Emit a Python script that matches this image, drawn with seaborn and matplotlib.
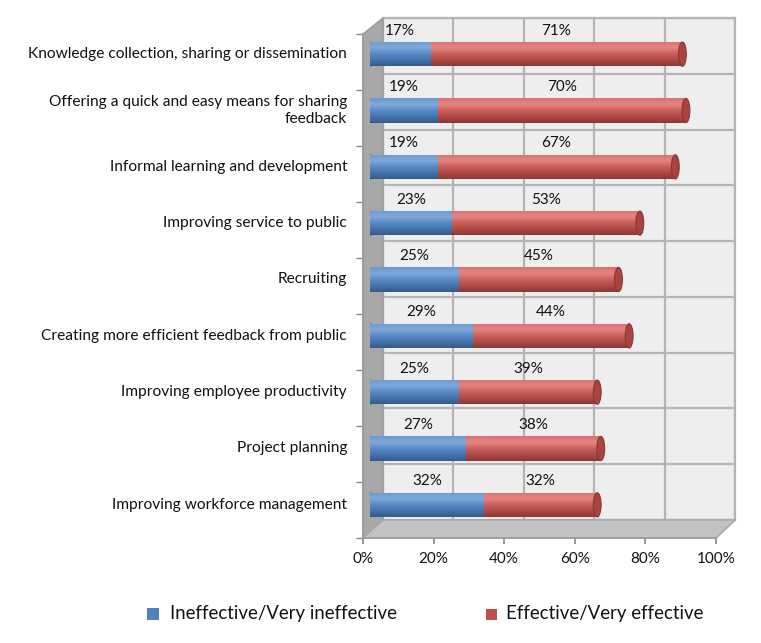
import numpy as np
import pandas as pd
import seaborn as sns
import matplotlib.pyplot as plt
from matplotlib.patches import Polygon, Rectangle, Ellipse
from matplotlib.lines import Line2D
from matplotlib.colors import LinearSegmentedColormap

# --------- Data ---------
categories = [
    "Knowledge collection, sharing or dissemination",
    "Offering a quick and easy means for sharing\nfeedback",
    "Informal learning and development",
    "Improving service to public",
    "Recruiting",
    "Creating more efficient feedback from public",
    "Improving employee productivity",
    "Project planning",
    "Improving workforce management",
]
ineffective = [17, 19, 19, 23, 25, 29, 25, 27, 32]
effective = [71, 70, 67, 53, 45, 44, 39, 38, 32]
x_ticks = [0, 20, 40, 60, 80, 100]
x_tick_labels = ["0%", "20%", "40%", "60%", "80%", "100%"]
series_names = ["Ineffective/Very ineffective", "Effective/Very effective"]

BLUE = "#4f81bd"
RED = "#c0504d"
W, H = 761, 643

df = pd.DataFrame({"category": categories, "ineffective": ineffective, "effective": effective})
df["total"] = df["ineffective"] + df["effective"]

sns.set_theme(style="white")
plt.rcParams["font.family"] = ["Lato", "DejaVu Sans"]

fig = plt.figure(figsize=(W / 100, H / 100), dpi=100)


def box(x0, y0, x1, y1):
    # pixel box -> figure rect
    return [x0 / W, 1 - y1 / H, (x1 - x0) / W, (y1 - y0) / H]


def px(x, y):
    return (x / W, 1 - y / H)


# --------- back wall ---------
ax_back = fig.add_axes(box(383, 18, 735, 520))
ax_back.set_zorder(-2)
ax_back.set_facecolor("#eeeeee")
ax_back.set_xlim(0, 100)
ax_back.set_ylim(len(categories), 0)
ax_back.set_xticks(x_ticks)
ax_back.set_yticks(range(len(categories) + 1))
ax_back.grid(True, color="#b4b4b4", linewidth=1.6)
ax_back.tick_params(length=0, labelbottom=False, labelleft=False)
for s in ax_back.spines.values():
    s.set_color("#b4b4b4")
    s.set_linewidth(1.6)

# side wall and floor (drawn under the bars)
fig.patches.append(Polygon([px(363, 34), px(383, 18), px(383, 520), px(363, 538)],
                           closed=True, transform=fig.transFigure, zorder=-1,
                           facecolor="#a8a8a8", edgecolor="#9a9a9a", lw=1))
fig.patches.append(Polygon([px(363, 538), px(383, 520), px(735, 520), px(716, 538)],
                           closed=True, transform=fig.transFigure, zorder=-1,
                           facecolor="#c2c2c2", edgecolor="#a8a8a8", lw=1))
for t in x_ticks:
    xb = 383 + t / 100 * (735 - 383)
    xf = 363 + t / 100 * (716 - 363)
    fig.lines.append(Line2D([xb / W, xf / W], [1 - 520 / H, 1 - 538 / H], zorder=-1,
                            transform=fig.transFigure, color="#a0a0a0", lw=1.2))

# --------- front axis (ticks and labels) ---------
ax_front = fig.add_axes(box(363, 34, 716, 538))
ax_front.set_zorder(0)
ax_front.patch.set_alpha(0)
ax_front.set_xlim(0, 100)
ax_front.set_ylim(len(categories), 0)
ax_front.set_xticks(x_ticks)
ax_front.set_xticklabels(x_tick_labels, fontsize=11, color="#111111")
ax_front.set_yticks(range(len(categories) + 1))
ax_front.set_yticklabels([])
ax_front.tick_params(axis="x", length=4, color="#8a8a8a", pad=6, direction="out", bottom=True)
ax_front.tick_params(axis="y", length=5, color="#8a8a8a", width=1, direction="out", left=True)
for k, s in ax_front.spines.items():
    s.set_visible(k in ("left", "bottom"))
    s.set_color("#9a9a9a")
    s.set_linewidth(1.2)

# --------- bars ---------
ax = fig.add_axes(box(370, 26, 725, 533))
ax.set_zorder(1)
ax.patch.set_alpha(0)
sns.barplot(data=df, x="total", y="category", color=RED, width=0.43,
            saturation=1, edgecolor="none", ax=ax)
sns.barplot(data=df, x="ineffective", y="category", color=BLUE, width=0.43,
            saturation=1, edgecolor="none", ax=ax)
ax.set_xlim(0, 100)
ax.set_ylim(len(categories) - 0.5, -0.5)

# cylinder shading: vertical gradient clipped to each bar
shades = {
    RED: LinearSegmentedColormap.from_list("r", ["#d77270", "#e58683", "#c9605d", "#b04a47", "#8a3735"]),
    BLUE: LinearSegmentedColormap.from_list("b", ["#6a98cf", "#7fa9dc", "#5a8bc6", "#4673ad", "#345a8a"]),
}
grad = np.linspace(0, 1, 64).reshape(-1, 1)
n = len(categories)
for j, p in enumerate(list(ax.patches)):
    col = RED if j < n else BLUE
    x0, y0 = p.get_x(), p.get_y()
    w, h = p.get_width(), p.get_height()
    if col == BLUE:
        # rounded left end
        cap = Ellipse((x0, y0 + h / 2), 2.6, h, facecolor="#4f7fb8",
                      edgecolor="#3c6591", lw=0.6, zorder=1.5)
        ax.add_patch(cap)
        im0 = ax.imshow(grad, cmap=shades[col], aspect="auto", interpolation="bicubic",
                        extent=[x0 - 1.3, x0, y0 + h, y0], zorder=1.6)
        im0.set_clip_path(cap)
    im = ax.imshow(grad, cmap=shades[col], aspect="auto", interpolation="bicubic",
                   extent=[x0, x0 + w, y0 + h, y0], zorder=2)
    im.set_clip_path(p)
    if col == RED:
        # darker end cap
        ax.add_patch(Ellipse((x0 + w, y0 + h / 2), 2.2, h, facecolor="#a84542",
                             edgecolor="#8a3735", lw=0.8, zorder=3))

ax.set_xlim(0, 100)
ax.set_ylim(len(categories) - 0.5, -0.5)
ax.set_xlabel("")
ax.set_ylabel("")
ax.set_xticks([])
ax.set_yticks([])
for s in ax.spines.values():
    s.set_visible(False)

# category labels
for i, c in enumerate(categories):
    ax.annotate(c, xy=(0, i), xycoords="data", xytext=(-16.5, 0), textcoords="offset points",
                ha="right", va="center", fontsize=11.2, color="#111111",
                multialignment="right", annotation_clip=False)

# value labels above each segment
for i, (a, b) in enumerate(zip(ineffective, effective)):
    ax.text(a / 2, i - 0.42, f"{a}%", ha="center", va="center", fontsize=11, color="#111111")
    ax.text(a + b / 2, i - 0.42, f"{b}%", ha="center", va="center", fontsize=11, color="#111111")

# --------- legend ---------
fig.patches.append(Rectangle(px(147, 620), 12 / W, 12 / H, transform=fig.transFigure,
                             facecolor=BLUE, edgecolor="none"))
fig.text(170 / W, 1 - 614 / H, series_names[0], fontsize=13.4, va="center", ha="left", color="#111111")
fig.patches.append(Rectangle(px(486, 620), 11 / W, 11 / H, transform=fig.transFigure,
                             facecolor=RED, edgecolor="none"))
fig.text(506 / W, 1 - 614 / H, series_names[1], fontsize=13.4, va="center", ha="left", color="#111111")

fig.savefig("out.png", dpi=100)
